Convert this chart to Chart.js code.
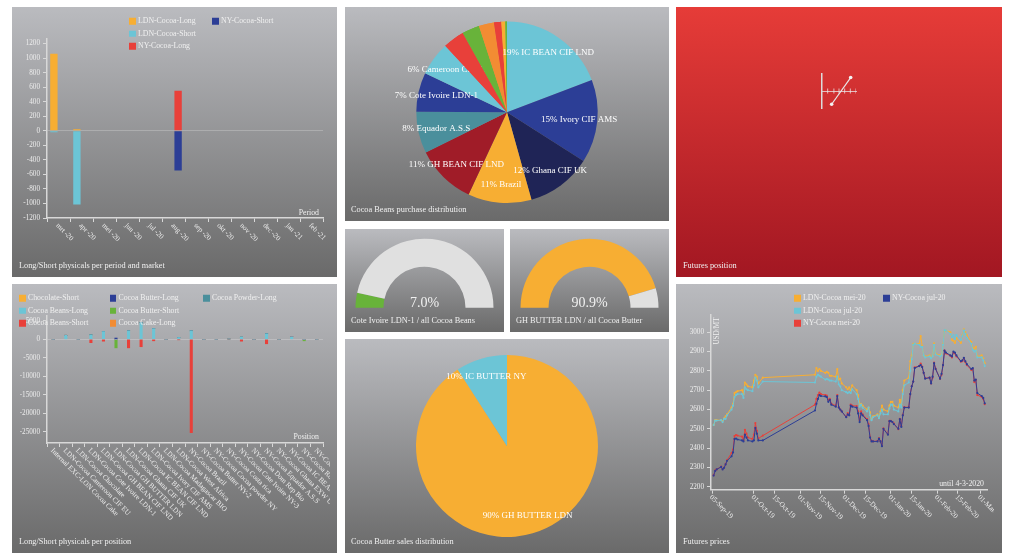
<!DOCTYPE html>
<html>
<head>
<meta charset="utf-8">
<title>Cocoa dashboard</title>
<script src="https://cdn.jsdelivr.net/npm/chart.js@4/dist/chart.umd.js"></script>
<style>
  html, body { margin: 0; background: #fff; overflow: hidden; }
  body { position: relative; width: 1024px; height: 557px; font-family: "Liberation Serif", serif; }
  .panel { position: absolute; background: linear-gradient(#babbbf, #6a6a6a); }
  .panel.red { background: linear-gradient(#e63c38, #a21722); }
  .panel canvas { position: absolute; left: 0; top: 0; }
  .txt { position: absolute; color: #f0f0f0; font-size: 7.8px; white-space: nowrap; line-height: 1; transform: translateY(-50%); }
  .swatch { position: absolute; width: 6.5px; height: 6.5px; transform: translateY(-50%); }
</style>
</head>
<body>
<script>
const ORANGE = '#f7ae33', NAVY = '#2c3e96', CYAN = '#6cc5d6', RED = '#e8403a', GREEN = '#68b33a',
  TEAL = '#4a8f9c', DARK = '#1f2456', WINE = '#a01c28', AMBER = '#f28c33', PALE = '#e0e0e0';
const TITLE_SIZE = 8.3;

// long/short per period
const periods = ['mrt -20', 'apr -20', 'mei -20', 'jun -20', 'jul -20', 'aug -20', 'sep -20', 'okt -20', 'nov -20', 'dec -20', 'jan -21', 'feb -21'];
const ldnLong = [1060, 20, 0, 0, 0, 0, 0, 0, 0, 0, 0, 0];
const ldnShort = [-20, -1015, 0, 0, 0, 0, 0, 0, 0, 0, 0, 0];
const nyLong = [0, 0, 0, 0, 0, 550, 0, 0, 0, 0, 0, 0];
const nyShort = [0, 0, 0, 0, 0, -545, 0, 0, 0, 0, 0, 0];
const periodTicks = [-1200, -1000, -800, -600, -400, -200, 0, 200, 400, 600, 800, 1000, 1200];

// long/short per position
const positions = ['Internal EXC-LON Cocoa Cake', 'LDN-Cocoa Cameroon CIF EU', 'LDN-Cocoa Chocolate', 'LDN-Cocoa Cote Ivoire LDN-1',
  'LDN-Cocoa GH BEAN CIF LND', 'LDN-Cocoa GH BUTTER LDN', 'LDN-Cocoa Ghana CIF UK', 'LDN-Cocoa IC BEAN CIF LND', 'LDN-Cocoa Ivory CIF AMS',
  'LDN-Cocoa Madagascar BIO', 'LDN-Cocoa West Africa', 'NY-Cocoa Brazil', 'NY-Cocoa Butter NY-2', 'NY-Cocoa Cocoa powder NY',
  'NY-Cocoa Costa rica', 'NY-Cocoa Cote Ivoire NY-3', 'NY-Cocoa Dom Rep Bio', 'NY-Cocoa Equador A.S.S', 'NY-Cocoa Ghana EXW UK',
  'NY-Cocoa IC BEAN CIF NY', 'NY-Cocoa Robusta', 'NY-Cocoa West Africa'];
const beansLong = [0, 1100, 0, 1200, 2100, 0, 2300, 4500, 2900, 0, 500, 2300, 0, 0, 100, 600, 0, 1500, 0, 700, 0, 0];
const beansShort = [0, 0, 0, -900, -500, 0, -2300, -2000, -400, 0, -100, -25200, 0, 0, 0, -500, 0, -1200, 0, 0, 0, 0];
const butterLong = [0, 0, 0, 0, 0, 350, 0, 0, 0, 0, 0, 0, 0, 0, 0, 0, 0, 0, 0, 0, 0, 0];
const butterShort = [0, 0, 0, 0, 0, -2300, 0, 0, 0, 0, 0, 0, 0, 0, 0, 0, 0, 0, 0, 0, -400, 0];
const positionTicks = [-25000, -20000, -15000, -10000, -5000, 0, 5000];

// pies
const beanLabels = ['19% IC BEAN CIF LND', '15% Ivory CIF AMS', '12% Ghana CIF UK', '11% Brazil', '11% GH BEAN CIF LND', '8% Equador A.S.S', '7% Cote Ivoire LDN-1', '6% Cameroon CIF EU', '', '', '', '', '', ''];
const beanShares = [19.2, 14.8, 11.6, 11.3, 10.7, 7.4, 7, 6, 3.8, 3.1, 2.7, 1.3, 0.7, 0.3];
const beanColors = [CYAN, NAVY, DARK, ORANGE, WINE, TEAL, NAVY, CYAN, RED, GREEN, AMBER, RED, ORANGE, GREEN];
const butterLabels = ['90% GH BUTTER LDN', '10% IC BUTTER NY'];
const butterShares = [90.9, 9.1];
const coteShare = [7, 93];
const ghButterShare = [90.9, 9.1];

// futures position
const legX = [1.7, 5.06];
const legY = [-780, 790];
const axisMarksX = [1, 2.1, 3, 4, 5, 6];
const axisMarksY = [0, 0, 0, 0, 0, 0];

// futures prices, days counted from 01-Oct-19
const days = [-27, -26, -25, -22, -21, -20, -19, -18, -15, -14, -13, -12, -11, -8, -7, -6, -5, -4, -1, 0, 1, 2, 3, 6,
  41, 42, 43, 44, 45, 48, 49, 50, 51, 52, 55, 56, 57, 58, 59, 62, 63, 64, 65, 66, 69, 70, 71, 72, 73, 76, 77, 78, 79, 80,
  83, 84, 85, 86, 87, 90, 91, 92, 93, 94, 97, 98, 99, 100, 101, 104, 105, 106, 107, 108, 111, 112, 113, 114, 115,
  118, 119, 120, 121, 122, 125, 126, 127, 128, 129, 132, 133, 134, 135, 136, 139, 140, 141, 142, 143, 146, 147, 148, 149, 150, 153, 154, 155];
const ldnMei = [2520, 2545, 2545, 2545, 2540, 2555, 2565, 2575, 2610, 2630, 2685, 2690, 2695, 2700, 2680, 2740, 2730, 2720, 2715, 2750, 2780, 2770, 2735, 2765,
  2780, 2815, 2800, 2810, 2800, 2790, 2795, 2790, 2775, 2775, 2770, 2810, 2755, 2760, 2735, 2715, 2705, 2715, 2700, 2725,
  2700, 2675, 2625, 2630, 2620, 2600, 2610, 2585, 2550, 2565, 2575, 2560, 2590, 2620, 2600, 2590, 2620, 2640, 2640, 2620,
  2610, 2650, 2625, 2700, 2750, 2765, 2850, 2880, 2940, 2940, 2940, 2980, 2930, 2880, 2875, 2880, 2870, 2880, 2943, 2890,
  2880, 2885, 2940, 3005, 3010, 3000, 2960, 2955, 2945, 2970, 2945, 2985, 3015, 3000, 2985, 2950, 2920, 2915, 2925, 2875, 2880, 2865, 2840];
const ldnJul = [2520, 2543, 2543, 2545, 2535, 2552, 2552, 2570, 2600, 2620, 2665, 2675, 2680, 2680, 2660, 2715, 2705, 2700, 2695, 2725, 2765, 2750, 2715, 2745,
  2740, 2770, 2780, 2775, 2770, 2755, 2758, 2755, 2750, 2750, 2745, 2770, 2730, 2720, 2700, 2690, 2685, 2690, 2685, 2705,
  2680, 2655, 2615, 2625, 2610, 2590, 2610, 2570, 2545, 2560, 2570, 2555, 2580, 2600, 2575, 2575, 2605, 2625, 2625, 2600,
  2590, 2625, 2610, 2680, 2725, 2740, 2800, 2860, 2935, 2940, 2935, 2925, 2925, 2880, 2870, 2875, 2865, 2875, 2935, 2885,
  2875, 2880, 2935, 3010, 3010, 2990, 2975, 2985, 2965, 2985, 2960, 2980, 3010, 2990, 2970, 2940, 2910, 2900, 2905, 2870, 2870, 2855, 2825];
const nyMei = [2260, 2285, 2290, 2305, 2292, 2300, 2318, 2338, 2375, 2392, 2463, 2468, 2465, 2460, 2440, 2495, 2475, 2455, 2448, 2470, 2530, 2490, 2450, 2465,
  2625, 2655, 2675, 2688, 2680, 2675, 2672, 2650, 2655, 2630, 2620, 2675, 2612, 2600, 2590, 2562, 2582, 2572, 2625, 2620,
  2618, 2590, 2545, 2590, 2575, 2550, 2525, 2458, 2438, 2435, 2437, 2452, 2437, 2412, 2502, 2472, 2542, 2542, 2535, 2528,
  2498, 2552, 2515, 2572, 2612, 2612, 2680, 2720, 2745, 2818, 2825, 2838, 2822, 2790, 2762, 2765, 2735, 2765, 2843, 2812,
  2758, 2780, 2830, 2905, 2890, 2878, 2870, 2895, 2890, 2875, 2848, 2850, 2865, 2845, 2830, 2805, 2810, 2742, 2752, 2675, 2665, 2655, 2628];
const nyJul = [2258, 2282, 2290, 2303, 2290, 2298, 2316, 2335, 2358, 2378, 2448, 2450, 2445, 2440, 2435, 2470, 2455, 2440, 2435, 2440, 2505, 2475, 2440, 2440,
  2595, 2630, 2655, 2675, 2670, 2668, 2665, 2640, 2650, 2625, 2615, 2670, 2610, 2600, 2590, 2560, 2575, 2570, 2620, 2615,
  2610, 2580, 2535, 2580, 2570, 2545, 2515, 2455, 2435, 2435, 2435, 2450, 2435, 2410, 2500, 2470, 2540, 2540, 2535, 2525,
  2500, 2550, 2510, 2570, 2610, 2610, 2680, 2720, 2745, 2815, 2825, 2830, 2820, 2790, 2760, 2765, 2735, 2770, 2840, 2810,
  2760, 2785, 2830, 2905, 2895, 2880, 2875, 2900, 2895, 2880, 2850, 2855, 2868, 2850, 2835, 2810, 2815, 2750, 2755, 2685, 2670, 2660, 2632];
const priceTicks = [2200, 2300, 2400, 2500, 2600, 2700, 2800, 2900, 3000];
const dateTicks = [-28, 0, 14, 31, 45, 61, 75, 92, 106, 123, 137, 152];
const dateLabels = ['05-Sep-19', '01-Oct-19', '15-Oct-19', '01-Nov-19', '15-Nov-19', '01-Dec-19', '15-Dec-19', '01-Jan-20', '15-Jan-20', '01-Feb-20', '15-Feb-20', '01-Mar-20'];

Chart.defaults.font.family = '"Liberation Serif", serif';
Chart.defaults.font.size = 7.2;
Chart.defaults.color = '#ececec';
Chart.defaults.animation = false;
Chart.defaults.responsive = false;
Chart.defaults.plugins.legend.display = false;
Chart.defaults.plugins.tooltip.enabled = false;

function panel(x, y, w, h, cls) {
  const el = document.createElement('div');
  el.className = 'panel ' + (cls || '');
  el.style.cssText = `left:${x}px;top:${y}px;width:${w}px;height:${h}px`;
  document.body.appendChild(el);
  return el;
}

function canvasIn(el, w, h) {
  const c = document.createElement('canvas');
  c.width = w; c.height = h;
  c.style.width = w + 'px'; c.style.height = h + 'px';
  el.appendChild(c);
  return c;
}

function text(str, x, y, size, extra) {
  const el = document.createElement('div');
  el.className = 'txt';
  el.textContent = str;
  el.style.cssText = `left:${x}px;top:${y}px;` + (size ? `font-size:${size}px;` : '') + (extra || '');
  document.body.appendChild(el);
  return el;
}

function legend(names, colors, columns, rows) {
  names.forEach((n, i) => {
    const col = columns[Math.floor(i / rows.length)];
    const y = rows[i % rows.length];
    const sw = document.createElement('div');
    sw.className = 'swatch';
    sw.style.cssText = `left:${col}px;top:${y}px;background:${colors[i]}`;
    document.body.appendChild(sw);
    text(n, col + 9, y);
  });
}

// labels that run down to the right from each tick
const slantLabels = {
  id: 'slantLabels',
  afterDraw(chart, args, opts) {
    if (!opts.labels) return;
    const ctx = chart.ctx, x = chart.scales.x;
    ctx.save();
    ctx.font = '7.2px "Liberation Serif"';
    ctx.fillStyle = '#ececec';
    ctx.textBaseline = 'middle';
    opts.labels.forEach((l, i) => {
      ctx.save();
      ctx.translate(x.getPixelForTick(i) - 1.5, x.top + 6.5);
      ctx.rotate(Math.PI / 4);
      ctx.fillText(l, 0, 0);
      ctx.restore();
    });
    ctx.restore();
  }
};

// slice labels at 80% of the radius, the Cameroon one sits under the later slices
const pieLabels = {
  id: 'pieLabels',
  afterDatasetsDraw(chart, args, opts) {
    if (!opts.labels) return;
    const ctx = chart.ctx, arcs = chart.getDatasetMeta(0).data;
    const put = i => {
      if (!opts.labels[i]) return;
      const a = arcs[i], mid = (a.startAngle + a.endAngle) / 2;
      ctx.fillText(opts.labels[i], a.x + Math.cos(mid) * a.outerRadius * 0.8, a.y + Math.sin(mid) * a.outerRadius * 0.8);
    };
    ctx.save();
    ctx.font = '9px "Liberation Serif"';
    ctx.fillStyle = '#fff';
    ctx.textAlign = 'center';
    ctx.textBaseline = 'middle';
    if (opts.under !== undefined) {
      put(opts.under);
      arcs.forEach((a, i) => { if (i > opts.under) a.draw(ctx); });
    }
    opts.labels.forEach((l, i) => { if (i !== opts.under) put(i); });
    ctx.restore();
  }
};
Chart.register(slantLabels, pieLabels);

function axes(w, h, left, top, right, bottom, yMin, yMax, yTicks) {
  return {
    layout: { padding: { top: top, right: w - right, left: 0, bottom: 0 } },
    scales: {
      x: {
        ticks: { display: false },
        grid: { drawOnChartArea: false, tickLength: 4, tickColor: '#d8d8d8' },
        border: { color: '#d8d8d8', width: 1.5 },
        afterFit(s) { s.height = h - bottom; s.paddingLeft = 0; s.paddingRight = 0; }
      },
      y: {
        min: yMin, max: yMax,
        afterBuildTicks(s) { s.ticks = yTicks.map(v => ({ value: v })); },
        ticks: { callback: v => String(v), padding: 3, autoSkip: false },
        grid: {
          color: c => c.tick && c.tick.value === 0 ? 'rgba(255,255,255,0.22)' : 'transparent',
          tickColor: '#d8d8d8', tickLength: 4
        },
        border: { color: '#d8d8d8', width: 1.5 },
        afterFit(s) { s.width = left; s.paddingTop = 0; s.paddingBottom = 0; }
      }
    }
  };
}

// panel 1
const p1 = panel(12, 7, 325, 270);
const o1 = axes(318, 270, 35, 31.5, 311, 211, -1200, 1270, periodTicks);
o1.scales.x.stacked = true;
o1.scales.y.stacked = true;
o1.plugins = { slantLabels: { labels: periods } };
const barOpts = { categoryPercentage: 0.8, barPercentage: 0.8, borderWidth: 0 };
new Chart(canvasIn(p1, 318, 270), {
  type: 'bar',
  data: {
    labels: periods,
    datasets: [
      { label: 'LDN-Cocoa-Long', data: ldnLong, backgroundColor: ORANGE, stack: 'LDN', ...barOpts },
      { label: 'LDN-Cocoa-Short', data: ldnShort, backgroundColor: CYAN, stack: 'LDN', ...barOpts },
      { label: 'NY-Cocoa-Long', data: nyLong, backgroundColor: RED, stack: 'NY', ...barOpts },
      { label: 'NY-Cocoa-Short', data: nyShort, backgroundColor: NAVY, stack: 'NY', ...barOpts }
    ]
  },
  options: o1
});
legend(['LDN-Cocoa-Long', 'LDN-Cocoa-Short', 'NY-Cocoa-Long', 'NY-Cocoa-Short'], [ORANGE, CYAN, RED, NAVY], [129, 212], [21.3, 33.7, 46]);
text('Period', 0, 213, 0, 'left:auto;right:705px');
text('Long/Short physicals per period and market', 19, 265.7, TITLE_SIZE);

// panel 2
const p2 = panel(12, 284, 325, 269);
const o2 = axes(318, 269, 35, 32, 311, 159, -28000, 6300, positionTicks);
o2.scales.x.stacked = true;
o2.scales.y.stacked = true;
o2.plugins = { slantLabels: { labels: positions } };
const thin = { barThickness: 2.4, borderWidth: 0 };
new Chart(canvasIn(p2, 318, 269), {
  type: 'bar',
  data: {
    labels: positions,
    datasets: [
      { label: 'Cocoa Beans-Long', data: beansLong, backgroundColor: CYAN, ...thin },
      { label: 'Cocoa Beans-Short', data: beansShort, backgroundColor: RED, ...thin },
      { label: 'Cocoa Butter-Long', data: butterLong, backgroundColor: NAVY, ...thin },
      { label: 'Cocoa Butter-Short', data: butterShort, backgroundColor: GREEN, ...thin }
    ]
  },
  options: o2
});
legend(['Chocolate-Short', 'Cocoa Beans-Long', 'Cocoa Beans-Short', 'Cocoa Butter-Long', 'Cocoa Butter-Short', 'Cocoa Cake-Long', 'Cocoa Powder-Long'],
  [ORANGE, CYAN, RED, NAVY, GREEN, AMBER, TEAL], [19, 109.5, 203], [298, 310.7, 323]);
text('Position', 0, 437, 0, 'left:auto;right:705px');
text('Long/Short physicals per position', 19, 542, TITLE_SIZE);

// panel 3
const p3 = panel(345, 7, 324, 214);
new Chart(canvasIn(p3, 324, 214), {
  type: 'pie',
  data: { labels: beanLabels, datasets: [{ data: beanShares, backgroundColor: beanColors, borderWidth: 0, radius: 90.7 }] },
  options: { layout: { padding: { bottom: 3.4 } }, plugins: { pieLabels: { labels: beanLabels, under: 7 } } }
});
text('Cocoa Beans purchase distribution', 351, 210, TITLE_SIZE);

// gauges
function gauge(x, values, color, value, title) {
  const p = panel(x, 229, 159, 103);
  new Chart(canvasIn(p, 159, 103), {
    type: 'doughnut',
    data: { datasets: [{ data: values, backgroundColor: [color, PALE], borderWidth: 0, radius: 69 }] },
    options: { cutout: '59.4%', rotation: -90, circumference: 180, layout: { padding: { bottom: 14.6 } } }
  });
  text(value, x + 79.5, 302.7, 14, 'transform:translate(-50%,-50%)');
  text(title, x + 6, 320.7, TITLE_SIZE);
}
gauge(345, coteShare, GREEN, '7.0%', 'Cote Ivoire LDN-1 / all Cocoa Beans');
gauge(510, ghButterShare, ORANGE, '90.9%', 'GH BUTTER LDN / all Cocoa Butter');

// panel 6
const p6 = panel(345, 339, 324, 214);
new Chart(canvasIn(p6, 324, 214), {
  type: 'pie',
  data: { labels: butterLabels, datasets: [{ data: butterShares, backgroundColor: [ORANGE, CYAN], borderWidth: 0, radius: 91 }] },
  options: { plugins: { pieLabels: { labels: butterLabels } } }
});
text('Cocoa Butter sales distribution', 351, 542, TITLE_SIZE);

// panel 7
const p7 = panel(676, 7, 326, 270, 'red');
new Chart(canvasIn(p7, 326, 270), {
  type: 'scatter',
  data: {
    datasets: [
      { data: legX.map((x, i) => ({ x: x, y: legY[i] })), showLine: true, borderColor: '#e8e8e8', borderWidth: 1.2, pointRadius: 1.8, pointBackgroundColor: '#f4f4f4', pointBorderWidth: 0 },
      { data: axisMarksX.map((x, i) => ({ x: x, y: axisMarksY[i] })), pointStyle: 'line', rotation: 90, pointRadius: 2.5, pointBorderColor: 'rgba(235,235,235,0.75)', pointBorderWidth: 1 }
    ]
  },
  options: {
    layout: { padding: { left: 146, top: 67, right: 146, bottom: 169 } },
    scales: {
      x: {
        min: 0, max: 6, position: { y: 0 },
        ticks: { display: false }, grid: { display: false },
        border: { color: 'rgba(235,235,235,0.75)', width: 1 },
        afterFit(s) { s.height = 0; }
      },
      y: {
        min: -1000, max: 1000,
        ticks: { display: false }, grid: { display: false },
        border: { color: '#dcdcdc', width: 1.5 },
        afterFit(s) { s.width = 0; }
      }
    }
  }
});
text('Futures position', 683, 266, TITLE_SIZE);

// panel 8
const p8 = panel(676, 284, 326, 269);
const o8 = axes(318, 269, 35, 30.7, 311.7, 205.7, 2185, 3091, priceTicks);
o8.scales.x.type = 'linear';
o8.scales.x.min = -28.8;
o8.scales.x.max = 157;
o8.scales.x.afterBuildTicks = s => { s.ticks = dateTicks.map(v => ({ value: v })); };
o8.plugins = { slantLabels: { labels: dateLabels } };
function priceLine(name, values, color, order) {
  return { label: name, data: days.map((d, i) => ({ x: d, y: values[i] })), borderColor: color, backgroundColor: color, borderWidth: 1, pointRadius: 1.1, pointBorderWidth: 0, tension: 0, order: order };
}
new Chart(canvasIn(p8, 318, 269), {
  type: 'line',
  data: {
    datasets: [
      priceLine('LDN-Cocoa mei-20', ldnMei, ORANGE, 4),
      priceLine('LDN-Cocoa jul-20', ldnJul, CYAN, 3),
      priceLine('NY-Cocoa mei-20', nyMei, RED, 2),
      priceLine('NY-Cocoa jul-20', nyJul, NAVY, 1)
    ]
  },
  options: o8
});
legend(['LDN-Cocoa mei-20', 'LDN-Cocoa jul-20', 'NY-Cocoa mei-20', 'NY-Cocoa jul-20'], [ORANGE, CYAN, RED, NAVY], [794, 883], [298, 310.5, 323]);
text('USD/MT', 717.7, 331, 7.2, 'transform:translate(-50%,-50%) rotate(-90deg)');
text('until 4-3-2020', 0, 483.7, 0, 'left:auto;right:40px');
text('Futures prices', 683, 542, TITLE_SIZE);
</script>
</body>
</html>
